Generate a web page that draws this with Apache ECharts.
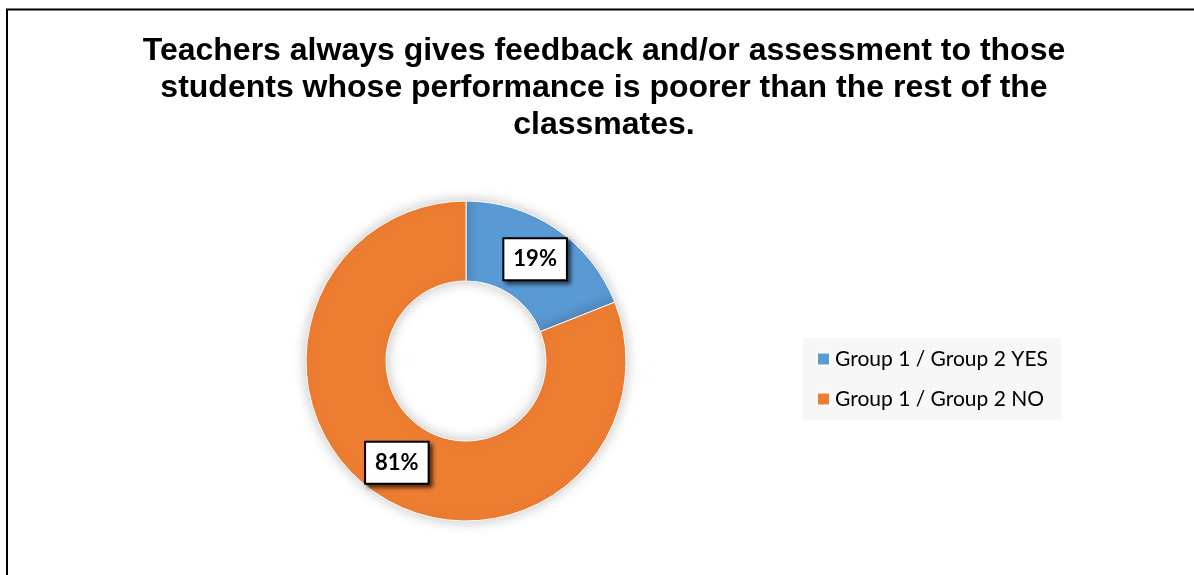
<!DOCTYPE html>
<html>
<head>
<meta charset="utf-8">
<script src="https://cdn.jsdelivr.net/npm/echarts@6/dist/echarts.min.js"></script>
<style>
  html, body { margin: 0; padding: 0; background: #fff; overflow: hidden; }
  #chart { width: 1194px; height: 575px; }
</style>
</head>
<body>
<div id="chart"></div>
<script>
// Survey answers, in percent
const categories = ['Group 1 / Group 2 YES', 'Group 1 / Group 2 NO'];
const values = [19, 81];
const colors = ['#5B9BD5', '#ED7D31'];
const titleText = 'Teachers always gives feedback and/or assessment to those\nstudents whose performance is poorer than the rest of the\nclassmates.';

const chart = echarts.init(document.getElementById('chart'));

const data = categories.map((name, i) => ({
  name: name,
  value: values[i],
  itemStyle: { color: colors[i] }
}));

chart.setOption({
  animation: false,
  title: {
    text: titleText,
    left: 599,
    top: 28,
    textAlign: 'center',
    textStyle: {
      fontFamily: 'Liberation Sans',
      fontWeight: 'bold',
      fontSize: 32,
      lineHeight: 37,
      color: '#000'
    }
  },
  legend: {
    orient: 'vertical',
    left: 803,
    top: 338,
    padding: [9, 13, 9, 13],
    backgroundColor: '#f7f7f7',
    itemWidth: 13,
    itemHeight: 13,
    itemGap: 16,
    itemTextGap: 7,
    icon: 'rect',
    data: categories,
    textStyle: {
      fontFamily: 'Lato',
      fontSize: 21,
      lineHeight: 24,
      color: '#000'
    }
  },
  graphic: [{
    // frame: top and left edges of the chart border
    type: 'polyline',
    silent: true,
    shape: { points: [[7, 600], [7, 9.5], [1194, 9.5]] },
    style: { fill: 'none', stroke: '#000', lineWidth: 2 }
  }],
  series: [{
    type: 'pie',
    center: [466, 361],
    radius: [80, 160],
    startAngle: 90,
    clockwise: true,
    avoidLabelOverlap: false,
    data: data,
    itemStyle: {
      borderColor: '#fff',
      borderWidth: 1,
      shadowBlur: 14,
      shadowColor: 'rgba(0,0,0,0.25)'
    },
    label: {
      show: true,
      position: 'inside',
      formatter: p => p.value + '%',
      fontFamily: 'Lato',
      fontWeight: 'bold',
      fontSize: 22,
      color: '#000',
      backgroundColor: '#fff',
      borderColor: '#000',
      borderWidth: 2,
      padding: [9, 9, 9, 9],
      shadowColor: 'rgba(0,0,0,0.55)',
      shadowBlur: 4,
      shadowOffsetX: 3,
      shadowOffsetY: 3
    },
    labelLine: { show: false },
    emphasis: { disabled: true }
  }]
});
</script>
</body>
</html>
